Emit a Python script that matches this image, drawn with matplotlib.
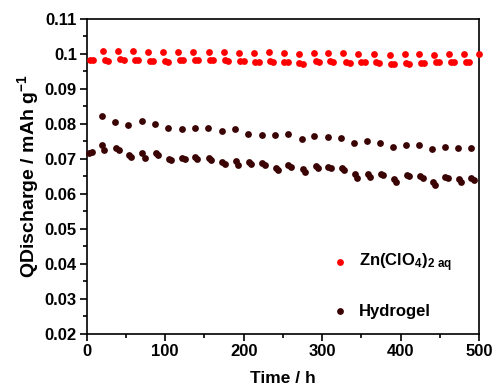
import matplotlib
matplotlib.use("Agg")
import matplotlib.pyplot as plt
from matplotlib.ticker import MultipleLocator, FormatStrFormatter

plt.rcParams['font.family'] = ['Liberation Sans', 'DejaVu Sans']
plt.rcParams['font.weight'] = 'bold'
plt.rcParams['mathtext.fontset'] = 'custom'
plt.rcParams['mathtext.rm'] = 'Liberation Sans:bold'
plt.rcParams['mathtext.bf'] = 'Liberation Sans:bold'
plt.rcParams['mathtext.it'] = 'Liberation Sans:bold'
plt.rcParams['mathtext.default'] = 'bf'

# Zn(ClO4)2 aq - upper row of points
znTimeHigh = [21, 40, 59, 78, 97, 117, 136, 156, 175, 194, 213, 232, 251,
              270, 289, 308, 327, 346, 366, 386, 405, 424, 443, 462, 481, 500]
znCapHigh = [0.1009, 0.1009, 0.1008, 0.1007, 0.1006, 0.1007, 0.1007, 0.1007,
             0.1005, 0.1004, 0.1004, 0.1005, 0.1002, 0.1000, 0.1004, 0.1003,
             0.1002, 0.1000, 0.1000, 0.0998, 0.0999, 0.1001, 0.0998, 0.1000,
             0.1001, 0.1000]

# Zn(ClO4)2 aq - lower rows (two close points per cycle)
znTimeLowA = [4, 23, 43, 62, 81, 100, 119, 138, 157, 176, 196, 215, 234,
              252, 271, 292, 310, 331, 350, 369, 388, 407, 426, 445, 464, 483]
znCapLowA = [0.0984, 0.0982, 0.0985, 0.0984, 0.0981, 0.0980, 0.0984, 0.0984,
             0.0983, 0.0982, 0.0981, 0.0978, 0.0980, 0.0978, 0.0973, 0.0980,
             0.0980, 0.0976, 0.0978, 0.0976, 0.0972, 0.0973, 0.0975, 0.0978,
             0.0978, 0.0978]
znTimeLowB = [8, 27, 47, 66, 85, 104, 123, 142, 161, 180, 200, 219, 238,
              256, 275, 296, 314, 335, 354, 373, 392, 411, 430, 449, 468, 487]
znCapLowB = [0.0983, 0.0980, 0.0983, 0.0982, 0.0979, 0.0978, 0.0982, 0.0982,
             0.0983, 0.0980, 0.0979, 0.0976, 0.0978, 0.0976, 0.0971, 0.0978,
             0.0978, 0.0974, 0.0976, 0.0974, 0.0970, 0.0971, 0.0973, 0.0976,
             0.0976, 0.0976]

# Hydrogel - upper row
gelTimeHigh = [19, 36, 53, 70, 87, 104, 121, 138, 155, 172, 189, 206, 223,
               240, 257, 274, 290, 307, 324, 341, 357, 374, 390, 407, 424,
               440, 457, 473, 490]
gelCapHigh = [0.0823, 0.0805, 0.0798, 0.0808, 0.0801, 0.0789, 0.0787, 0.0789,
              0.0788, 0.0781, 0.0786, 0.0772, 0.0768, 0.0768, 0.0771, 0.0757,
              0.0766, 0.0764, 0.0761, 0.0745, 0.0751, 0.0747, 0.0735, 0.0739,
              0.0740, 0.0728, 0.0734, 0.0732, 0.0732]

# Hydrogel - lower rows (two close points per cycle)
gelTimeLowA = [3, 19, 38, 54, 71, 88, 105, 122, 138, 156, 173, 190, 207,
               224, 241, 257, 275, 292, 308, 325, 342, 358, 375, 391, 408,
               425, 441, 457, 474, 490]
gelCapLowA = [0.0716, 0.0740, 0.0730, 0.0711, 0.0716, 0.0718, 0.0701, 0.0703,
              0.0705, 0.0702, 0.0690, 0.0693, 0.0690, 0.0688, 0.0675, 0.0682,
              0.0670, 0.0679, 0.0677, 0.0674, 0.0656, 0.0656, 0.0658, 0.0642,
              0.0654, 0.0651, 0.0634, 0.0649, 0.0642, 0.0645]
gelTimeLowB = [7, 22, 41, 57, 74, 91, 108, 125, 141, 159, 176, 193, 210,
               227, 244, 260, 278, 295, 311, 328, 345, 361, 378, 394, 411,
               428, 444, 460, 477, 493]
gelCapLowB = [0.0720, 0.0727, 0.0726, 0.0707, 0.0703, 0.0710, 0.0697, 0.0699,
              0.0701, 0.0698, 0.0686, 0.0684, 0.0686, 0.0682, 0.0668, 0.0678,
              0.0662, 0.0675, 0.0673, 0.0668, 0.0647, 0.0648, 0.0654, 0.0633,
              0.0650, 0.0647, 0.0625, 0.0645, 0.0635, 0.0641]

znColor = '#ff0000'
gelColor = '#3b0404'

fig = plt.figure(figsize=(4.95, 3.87), dpi=100)
ax = fig.add_axes([0.175, 0.137, 0.793, 0.814])

ms = 24
ax.scatter(znTimeHigh, znCapHigh, s=ms, color=znColor, lw=0, clip_on=False, zorder=3)
ax.scatter(znTimeLowA, znCapLowA, s=ms, color=znColor, lw=0, clip_on=False, zorder=3)
ax.scatter(znTimeLowB, znCapLowB, s=ms, color=znColor, lw=0, clip_on=False, zorder=3,
           label=r'Zn(ClO$_\mathbf{4}$)$_\mathbf{2\ aq}$')
ax.scatter(gelTimeHigh, gelCapHigh, s=ms, color=gelColor, lw=0, clip_on=False, zorder=3)
ax.scatter(gelTimeLowA, gelCapLowA, s=ms, color=gelColor, lw=0, clip_on=False, zorder=3)
ax.scatter(gelTimeLowB, gelCapLowB, s=ms, color=gelColor, lw=0, clip_on=False, zorder=3,
           label='Hydrogel')

ax.set_xlim(0, 500)
ax.set_ylim(0.02, 0.11)
ax.xaxis.set_major_locator(MultipleLocator(100))
ax.xaxis.set_minor_locator(MultipleLocator(50))
ax.yaxis.set_major_locator(MultipleLocator(0.01))
ax.yaxis.set_minor_locator(MultipleLocator(0.005))
ax.yaxis.set_major_formatter(FormatStrFormatter('%g'))
ax.tick_params(which='both', direction='out', top=False, right=False,
               labelsize=12, width=1.2, pad=2)
ax.tick_params(which='major', length=5)
ax.tick_params(which='minor', length=3)
for lbl in ax.get_xticklabels() + ax.get_yticklabels():
    lbl.set_fontweight('bold')
for sp in ax.spines.values():
    sp.set_linewidth(1.2)

ax.set_xlabel('Time / h', fontsize=12.5, fontweight='bold', labelpad=9)
ax.set_ylabel(r'QDischarge / mAh g$^\mathbf{-1}$', fontsize=14, fontweight='bold', labelpad=3)

ax.legend(loc='lower left', bbox_to_anchor=(0.583, 0.001), frameon=False,
          labelspacing=1.8, handletextpad=0.5, handlelength=1.2,
          prop={'weight': 'bold', 'size': 12})

fig.savefig('out.png', dpi=100)
